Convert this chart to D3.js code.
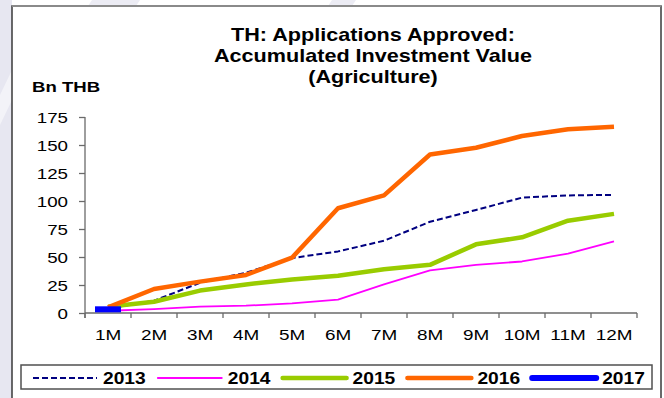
<!DOCTYPE html>
<html>
<head>
<meta charset="utf-8">
<script src="https://cdn.jsdelivr.net/npm/d3@7/dist/d3.min.js"></script>
<style>
  html, body { margin: 0; padding: 0; background: #ffffff; }
  svg { display: block; font-family: "Liberation Sans", Arial, sans-serif; }
</style>
</head>
<body>
<svg id="chart" width="664" height="398"></svg>
<script>
// Accumulated investment value of approved applications, agriculture (Bn THB)
const months = ["1M", "2M", "3M", "4M", "5M", "6M", "7M", "8M", "9M", "10M", "11M", "12M"];
const yTicks = [0, 25, 50, 75, 100, 125, 150, 175];
const seriesNames = ["2013", "2014", "2015", "2016", "2017"];

const v2013 = [4, 11, 27, 36, 49, 55, 64.5, 81.5, 92, 103, 105, 105.5];
const v2014 = [2, 3.5, 5.7, 6.5, 8.6, 12, 25.5, 38, 43, 46, 53, 64];
const v2015 = [5.5, 10, 20, 25.5, 30, 33.3, 39, 43, 61.3, 67.6, 82.4, 88.5];
const v2016 = [5, 21.4, 28, 34, 49.4, 93.5, 105, 141.5, 147.5, 158, 164, 166.4];
const v2017 = [3.3];

const titleLines = ["TH: Applications Approved:", "Accumulated Investment Value", "(Agriculture)"];
const unitLabel = "Bn THB";

const series = [
  { name: seriesNames[0], values: v2013, color: "#000080", width: 2,   dash: "6,3" },
  { name: seriesNames[1], values: v2014, color: "#ff00ff", width: 1.8, dash: null },
  { name: seriesNames[2], values: v2015, color: "#99cc00", width: 4.5, dash: null },
  { name: seriesNames[3], values: v2016, color: "#ff6600", width: 4.5, dash: null },
  { name: seriesNames[4], values: v2017, color: "#0000ff", width: 6,   dash: null }
];

const svg = d3.select("#chart");
const SX = 1.24; // horizontal stretch applied to all lettering

function stretchedText(g, x, y, str, opts) {
  return g.append("text")
    .attr("transform", `translate(${x},${y}) scale(${opts.sx || SX},1)`)
    .attr("text-anchor", opts.anchor || "start")
    .attr("font-size", opts.size)
    .attr("font-weight", opts.bold ? "bold" : "normal")
    .attr("fill", "#000")
    .text(str);
}

// page backdrop outside the chart frame
svg.append("rect").attr("x", 0).attr("y", 0).attr("width", 12).attr("height", 398).attr("fill", "#e7e7f1");
svg.append("polygon").attr("points", "0,95 12,70 12,100 0,125").attr("fill", "#f3f3f8");
svg.append("polygon").attr("points", "92,0 140,0 136,6 88,6").attr("fill", "#ececf4");
svg.append("polygon").attr("points", "332,0 356,0 352,6 328,6").attr("fill", "#ececf4");

// chart frame
svg.append("rect").attr("x", 12).attr("y", 6).attr("width", 649).attr("height", 400)
  .attr("fill", "#ffffff").attr("stroke", "#3a3a3a").attr("stroke-width", 1.5);
svg.append("line").attr("x1", 12).attr("x2", 661).attr("y1", 6).attr("y2", 6)
  .attr("stroke", "#8a8a8a").attr("stroke-width", 2);

// title
const tg = svg.append("g");
titleLines.forEach((t, i) => stretchedText(tg, 373, 41 + i * 21, t, { size: 18, bold: true, anchor: "middle", sx: 1.2 }));
stretchedText(svg, 32, 92, unitLabel, { size: 15, bold: true });

// scales
const x = d3.scaleBand().domain(months).range([85, 637]).paddingInner(0).paddingOuter(0);
const y = d3.scaleLinear().domain([0, 175]).range([313, 117]);
const cx = m => x(m) + x.bandwidth() / 2;

const axisColor = "#6a6a6a";

// y axis
const yAxis = svg.append("g").attr("transform", "translate(85,0)")
  .call(d3.axisLeft(y).tickValues(yTicks).tickSize(6).tickSizeOuter(0).tickPadding(0));
yAxis.select(".domain").remove();
yAxis.selectAll(".tick line").attr("stroke", axisColor).attr("stroke-width", 1.3);
yAxis.selectAll(".tick text")
  .attr("x", 0).attr("dy", "0.36em")
  .attr("transform", `translate(-17,0) scale(1.25,1)`)
  .attr("font-size", 15).attr("font-family", "Liberation Sans, Arial, sans-serif")
  .attr("fill", "#000");
svg.append("line").attr("x1", 85).attr("x2", 85).attr("y1", y(175)).attr("y2", y(0) + 5)
  .attr("stroke", axisColor).attr("stroke-width", 1.3);

// x axis: baseline, boundary ticks, centred labels
svg.append("line").attr("x1", 85).attr("x2", x.range()[1]).attr("y1", y(0)).attr("y2", y(0))
  .attr("stroke", axisColor).attr("stroke-width", 1.5);
const bounds = months.map(m => x(m)).concat([x.range()[1]]);
svg.append("g").selectAll("line").data(bounds).join("line")
  .attr("x1", d => d).attr("x2", d => d).attr("y1", y(0)).attr("y2", y(0) + 5)
  .attr("stroke", axisColor).attr("stroke-width", 1.3);
const xl = svg.append("g");
months.forEach(m => stretchedText(xl, cx(m), 340, m, { size: 15.5, anchor: "middle", sx: 1.22 }));

// series lines
const line = d3.line().x((d, i) => cx(months[i])).y(d => y(d));
const lg = svg.append("g");
series.forEach(s => {
  if (s.values.length > 1) {
    lg.append("path").datum(s.values)
      .attr("d", line)
      .attr("fill", "none")
      .attr("stroke", s.color)
      .attr("stroke-width", s.width)
      .attr("stroke-linejoin", "round")
      .attr("stroke-dasharray", s.dash);
  } else {
    // single reading: drawn as a short dash marker at its month
    const m = months[0];
    lg.append("line")
      .attr("x1", cx(m) - 13).attr("x2", cx(m) + 13)
      .attr("y1", y(s.values[0])).attr("y2", y(s.values[0]))
      .attr("stroke", s.color).attr("stroke-width", s.width);
  }
});

// legend
svg.append("rect").attr("x", 21).attr("y", 365).attr("width", 631).attr("height", 24)
  .attr("fill", "#ffffff").attr("stroke", "#505050").attr("stroke-width", 1.5);
const leg = svg.append("g");
series.forEach((s, i) => {
  const x0 = 33 + i * 124.8;
  leg.append("line")
    .attr("x1", x0).attr("x2", x0 + 64).attr("y1", 378).attr("y2", 378)
    .attr("stroke", s.color).attr("stroke-width", s.width)
    .attr("stroke-linecap", s.dash ? "butt" : "round")
    .attr("stroke-dasharray", s.dash);
  stretchedText(leg, x0 + 70, 384, s.name, { size: 16, bold: true, sx: 1.2 });
});
</script>
</body>
</html>
